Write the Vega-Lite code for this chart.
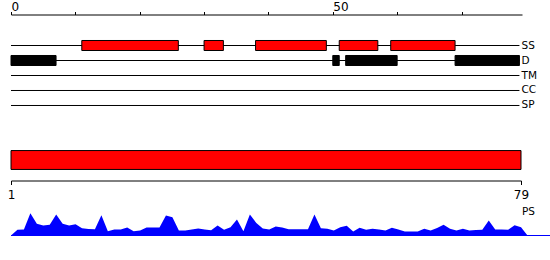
{
  "$schema": "https://vega.github.io/schema/vega-lite/v6.json",
  "padding": {"left": 7, "top": 0.5, "right": 0, "bottom": 0},
  "bounds": "flush",
  "spacing": 15,
  "config": {
    "view": {"stroke": null},
    "axis": {"labelFont": "DejaVu Sans", "labelColor": "#000", "domainColor": "#000", "tickColor": "#000", "grid": false, "domainWidth": 1, "tickWidth": 1},
    "text": {"font": "DejaVu Sans"}
  },
  "datasets": {
    "tracks": [
      {"track": "SS", "start": 0, "end": 79},
      {"track": "D", "start": 0, "end": 79},
      {"track": "TM", "start": 0, "end": 79},
      {"track": "CC", "start": 0, "end": 79},
      {"track": "SP", "start": 0, "end": 79}
    ],
    "features": [
      {"track": "SS", "start": 11, "end": 26},
      {"track": "SS", "start": 30, "end": 33},
      {"track": "SS", "start": 38, "end": 49},
      {"track": "SS", "start": 51, "end": 57},
      {"track": "SS", "start": 59, "end": 69},
      {"track": "D", "start": 0, "end": 7},
      {"track": "D", "start": 50, "end": 51},
      {"track": "D", "start": 52, "end": 60},
      {"track": "D", "start": 69, "end": 79}
    ],
    "whole": [{"start": 1, "end": 79}],
    "ps": [
      {"k": 0, "h": 0}, {"k": 1, "h": 5.7}, {"k": 2, "h": 6}, {"k": 3, "h": 22.3}, {"k": 4, "h": 11.7},
      {"k": 5, "h": 10}, {"k": 6, "h": 10.7}, {"k": 7, "h": 21}, {"k": 8, "h": 11.7}, {"k": 9, "h": 10},
      {"k": 10, "h": 11.3}, {"k": 11, "h": 7.3}, {"k": 12, "h": 6.5}, {"k": 13, "h": 6.3}, {"k": 14, "h": 20.3},
      {"k": 15, "h": 4.3}, {"k": 16, "h": 6}, {"k": 17, "h": 6}, {"k": 18, "h": 8}, {"k": 19, "h": 4.3},
      {"k": 20, "h": 5}, {"k": 21, "h": 8}, {"k": 22, "h": 8}, {"k": 23, "h": 8}, {"k": 24, "h": 20},
      {"k": 25, "h": 18.3}, {"k": 26, "h": 5}, {"k": 27, "h": 5}, {"k": 28, "h": 6}, {"k": 29, "h": 7},
      {"k": 30, "h": 6}, {"k": 31, "h": 5.3}, {"k": 32, "h": 10}, {"k": 33, "h": 5.7}, {"k": 34, "h": 8.3},
      {"k": 35, "h": 16}, {"k": 36, "h": 4.3}, {"k": 37, "h": 21}, {"k": 38, "h": 12.5}, {"k": 39, "h": 7},
      {"k": 40, "h": 6}, {"k": 41, "h": 9}, {"k": 42, "h": 8}, {"k": 43, "h": 6.3}, {"k": 44, "h": 6.3},
      {"k": 45, "h": 6.3}, {"k": 46, "h": 6.3}, {"k": 47, "h": 21}, {"k": 48, "h": 7.3}, {"k": 49, "h": 6.7},
      {"k": 50, "h": 5}, {"k": 51, "h": 8.3}, {"k": 52, "h": 9.7}, {"k": 53, "h": 4}, {"k": 54, "h": 7.7},
      {"k": 55, "h": 5.7}, {"k": 56, "h": 6.7}, {"k": 57, "h": 6}, {"k": 58, "h": 5}, {"k": 59, "h": 7.7},
      {"k": 60, "h": 6}, {"k": 61, "h": 4}, {"k": 62, "h": 4}, {"k": 63, "h": 4}, {"k": 64, "h": 6.7},
      {"k": 65, "h": 5}, {"k": 66, "h": 7.5}, {"k": 67, "h": 10.7}, {"k": 68, "h": 6.7}, {"k": 69, "h": 5},
      {"k": 70, "h": 6.7}, {"k": 71, "h": 5}, {"k": 72, "h": 5.5}, {"k": 73, "h": 5.7}, {"k": 74, "h": 15},
      {"k": 75, "h": 6}, {"k": 76, "h": 6}, {"k": 77, "h": 5.7}, {"k": 78, "h": 10.3}, {"k": 79, "h": 8.3},
      {"k": 80, "h": 0}
    ]
  },
  "vconcat": [
    {
      "width": 511,
      "height": 120,
      "layer": [
        {
          "data": {"name": "tracks"},
          "mark": {"type": "rule", "color": "#000", "strokeWidth": 1},
          "encoding": {
            "x": {
              "field": "start", "type": "quantitative",
              "scale": {"domain": [0, 79.4], "nice": false, "zero": false},
              "axis": {
                "orient": "top", "title": null, "values": [0, 10, 20, 30, 40, 50, 60, 70],
                "labelExpr": "datum.value % 50 === 0 ? datum.label : ''",
                "labelAlign": "left", "labelBaseline": "alphabetic", "labelPadding": 1,
                "tickSize": 3, "labelFontSize": 12
              }
            },
            "x2": {"field": "end"},
            "y": {
              "field": "track", "type": "nominal", "sort": null,
              "scale": {"type": "band", "domain": ["SS", "D", "TM", "CC", "SP"], "paddingInner": 0.3333, "paddingOuter": 1, "range": [11, 111]},
              "axis": {"orient": "right", "title": null, "domain": false, "ticks": false, "labelPadding": -1, "labelFontSize": 10.5, "labelAlign": "left"}
            }
          }
        },
        {
          "data": {"name": "features"},
          "mark": {"type": "bar", "stroke": "#000", "strokeWidth": 1, "opacity": 1},
          "encoding": {
            "x": {"field": "start", "type": "quantitative"},
            "x2": {"field": "end"},
            "y": {"field": "track", "type": "nominal"},
            "color": {"field": "track", "type": "nominal", "scale": {"domain": ["SS", "D"], "range": ["#ff0000", "#000000"]}, "legend": null}
          }
        }
      ]
    },
    {
      "width": 510,
      "height": 21,
      "data": {"name": "whole"},
      "mark": {"type": "bar", "color": "#ff0000", "stroke": "#000", "strokeWidth": 1},
      "encoding": {
        "x": {
          "field": "start", "type": "quantitative",
          "scale": {"domain": [1, 79], "nice": false, "zero": false},
          "axis": {"orient": "bottom", "title": null, "values": [1, 79], "offset": 10, "tickSize": 4, "labelFontSize": 12, "labelPadding": 5, "labelFlush": false}
        },
        "x2": {"field": "end"}
      }
    },
    {
      "width": 540,
      "height": 50,
      "layer": [
        {
          "data": {"name": "ps"},
          "mark": {"type": "area", "color": "#0000ff", "interpolate": "linear"},
          "encoding": {
            "x": {"field": "k", "type": "quantitative", "scale": {"domain": [0, 83.64], "nice": false, "zero": false}, "axis": null},
            "y": {"field": "h", "type": "quantitative", "scale": {"domain": [0, 50], "nice": false}, "axis": null}
          }
        },
        {
          "data": {"values": [{"label": "PS"}]},
          "mark": {"type": "rule", "color": "#0000ff", "strokeWidth": 1},
          "encoding": {
            "x": {"datum": 0, "type": "quantitative"},
            "x2": {"datum": 83.64},
            "y": {"datum": 0, "type": "quantitative"}
          }
        },
        {
          "data": {"values": [{"label": "PS"}]},
          "mark": {"type": "text", "align": "left", "baseline": "middle", "fontSize": 10.5, "font": "DejaVu Sans", "color": "#000"},
          "encoding": {
            "x": {"datum": 79.15, "type": "quantitative"},
            "y": {"datum": 24, "type": "quantitative"},
            "text": {"field": "label"}
          }
        }
      ]
    }
  ]
}
